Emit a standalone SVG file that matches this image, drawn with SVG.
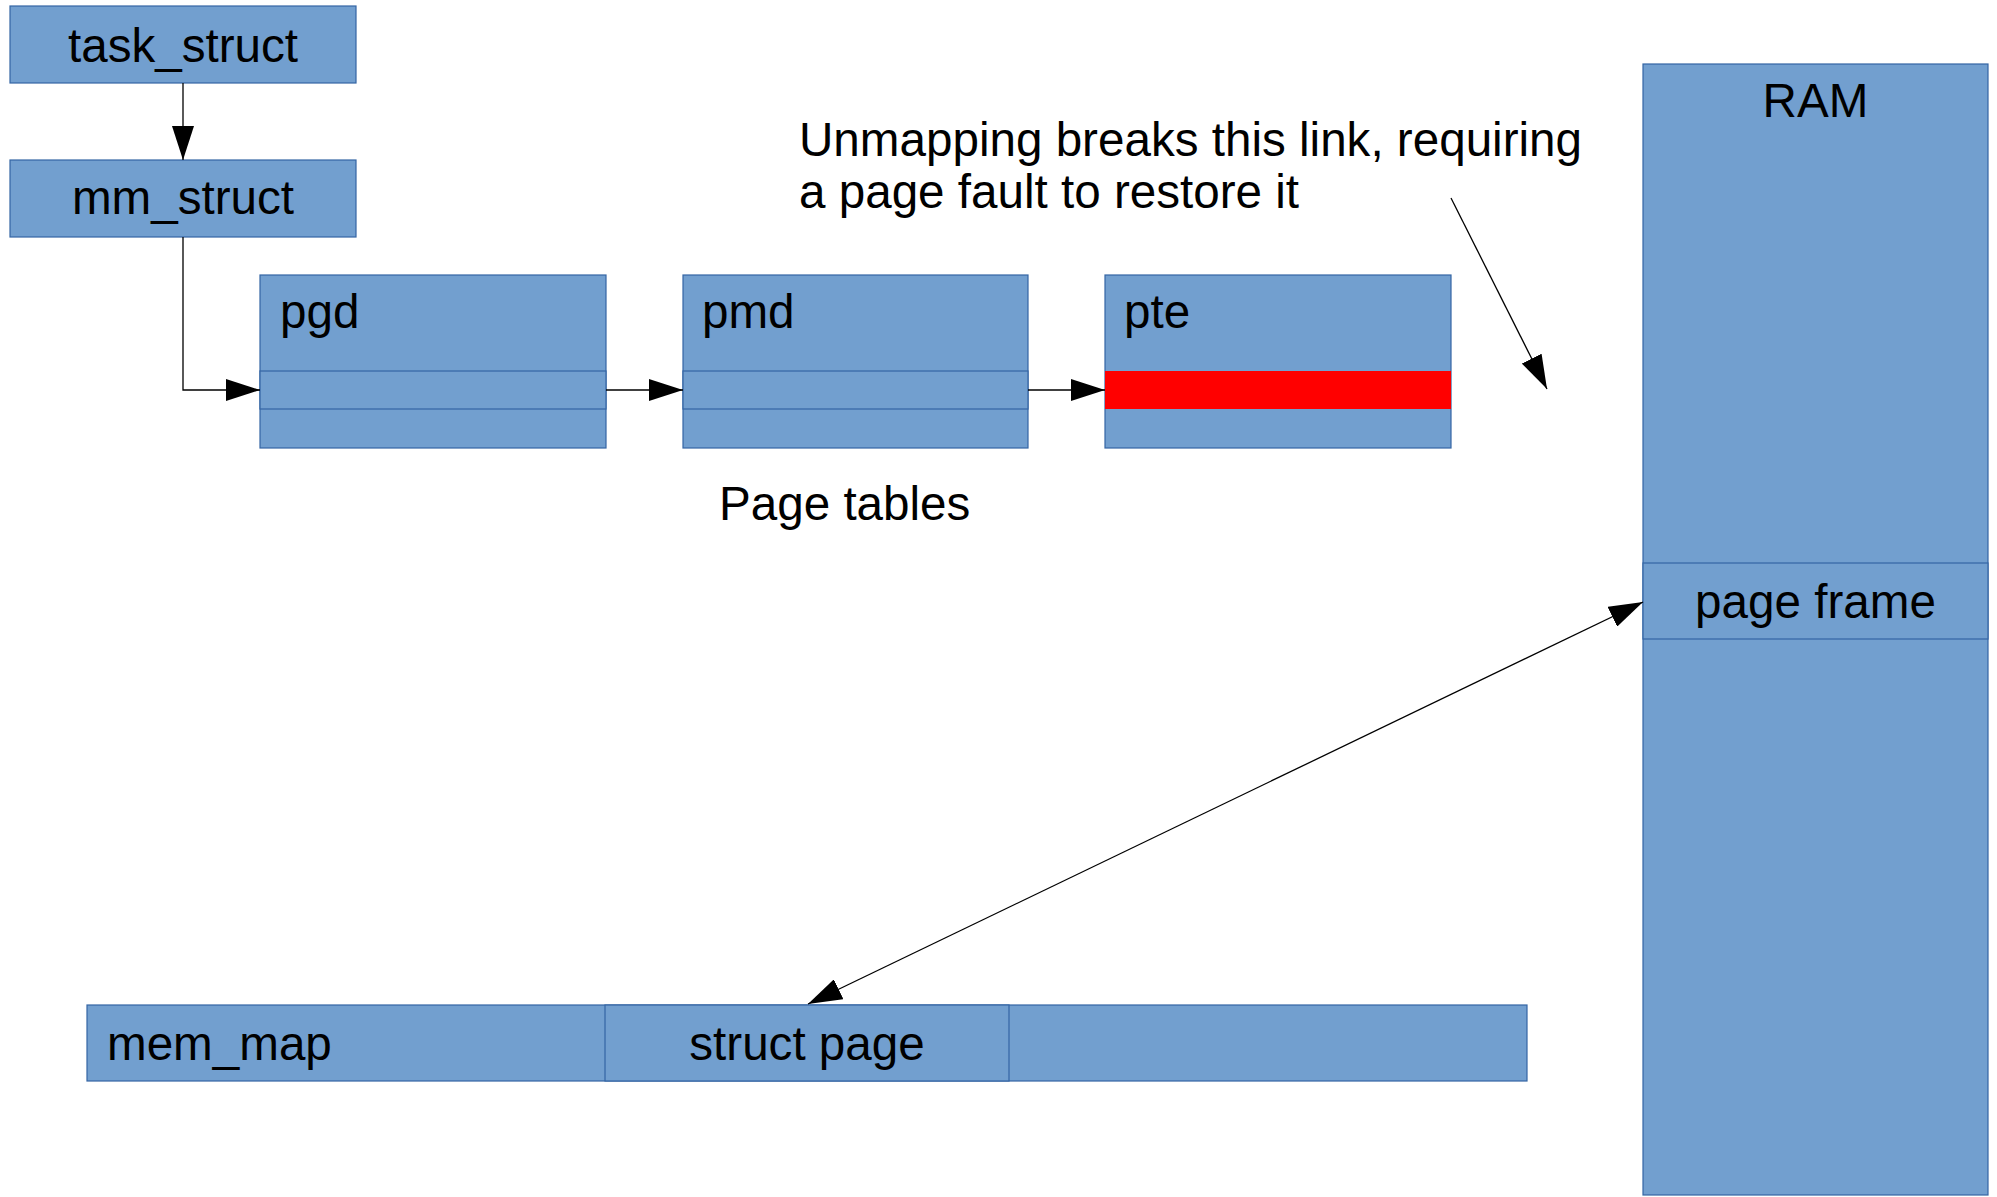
<svg xmlns="http://www.w3.org/2000/svg" width="1997" height="1197" viewBox="0 0 1997 1197">
  <style>
    .box { fill: #729fcf; stroke: #3465a4; stroke-width: 1.2; }
    .hot { fill: #ff0000; stroke: none; }
    .lbl { font-family: "Liberation Sans", Arial, sans-serif; font-size: 47.6px; fill: #000000; }
    .mid { text-anchor: middle; }
    .wire { fill: none; stroke: #000000; stroke-width: 1.3; }
  </style>
  <defs>
    <marker id="head" markerUnits="userSpaceOnUse" markerWidth="34" markerHeight="22" refX="34" refY="11" orient="auto-start-reverse">
      <path d="M0,0 L34,11 L0,22 Z" fill="#000000"/>
    </marker>
  </defs>
  <rect width="1997" height="1197" fill="#ffffff"/>

  <g id="task_struct">
    <rect class="box" x="10" y="6" width="346" height="77"/>
    <text class="lbl mid" x="183" y="62">task_struct</text>
  </g>

  <g id="mm_struct">
    <rect class="box" x="10" y="160" width="346" height="77"/>
    <text class="lbl mid" x="183" y="214">mm_struct</text>
  </g>

  <g id="pgd">
    <rect class="box" x="260" y="275" width="346" height="173"/>
    <rect class="box" x="260" y="371" width="346" height="38"/>
    <text class="lbl" x="280" y="328">pgd</text>
  </g>

  <g id="pmd">
    <rect class="box" x="683" y="275" width="345" height="173"/>
    <rect class="box" x="683" y="371" width="345" height="38"/>
    <text class="lbl" x="702" y="328">pmd</text>
  </g>

  <g id="pte">
    <rect class="box" x="1105" y="275" width="346" height="173"/>
    <rect class="hot" x="1105" y="371" width="346" height="38"/>
    <text class="lbl" x="1124" y="328">pte</text>
  </g>

  <g id="page_tables_label">
    <text class="lbl" x="719" y="520">Page tables</text>
  </g>

  <g id="unmap_note">
    <text class="lbl" x="799" y="156">Unmapping breaks this link, requiring</text>
    <text class="lbl" x="799" y="208">a page fault to restore it</text>
  </g>

  <g id="ram">
    <rect class="box" x="1643" y="64" width="345" height="1131"/>
    <text class="lbl mid" x="1815.5" y="117">RAM</text>
  </g>

  <g id="page_frame">
    <rect class="box" x="1643" y="563" width="345" height="76"/>
    <text class="lbl mid" x="1815.5" y="618">page frame</text>
  </g>

  <g id="mem_map">
    <rect class="box" x="87" y="1005" width="1440" height="76"/>
    <text class="lbl" x="107" y="1060">mem_map</text>
  </g>

  <g id="struct_page">
    <rect class="box" x="605" y="1005" width="404" height="76"/>
    <text class="lbl mid" x="807" y="1060">struct page</text>
  </g>

  <g id="connectors">
    <path class="wire" d="M183,83 V160" marker-end="url(#head)"/>
    <path class="wire" d="M183,237 V390 H260" marker-end="url(#head)"/>
    <path class="wire" d="M606,390 H683" marker-end="url(#head)"/>
    <path class="wire" d="M1028,390 H1105" marker-end="url(#head)"/>
    <path class="wire" d="M1451,198 L1547,389" marker-end="url(#head)"/>
    <path class="wire" d="M808,1004 L1643,602" marker-start="url(#head)" marker-end="url(#head)"/>
  </g>
</svg>
